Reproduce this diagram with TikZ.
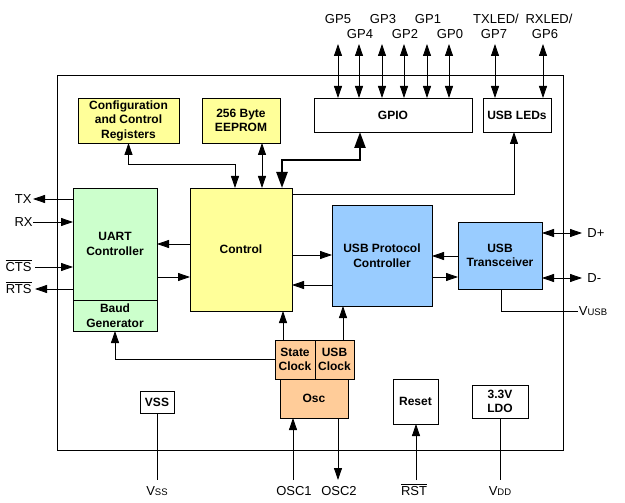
\documentclass[tikz,border=0pt]{standalone}
\usepackage{fontspec}
\setmainfont{Liberation Sans}
\usetikzlibrary{arrows.meta}
\newcommand\ovl[1]{\vbox{\hrule height 0.7pt\kern1.3pt\hbox{#1}}}
\newcommand\subc[1]{{\fontsize{9.5}{10}\selectfont #1}}
\definecolor{cyel}{HTML}{FFFF99}
\definecolor{cgrn}{HTML}{CCFFCC}
\definecolor{cblu}{HTML}{99CCFF}
\definecolor{cpch}{HTML}{FFCC99}
\begin{document}
\begin{tikzpicture}[x=1pt,y=-1pt,line width=0.8pt,
  box/.style={draw,font=\fontsize{12}{14.5}\selectfont\bfseries,align=center,inner sep=0pt,outer sep=0pt},
  pin/.style={font=\fontsize{13}{15}\selectfont,inner sep=1pt,align=center},
  arr/.style={-{Triangle[length=12pt,width=8pt]}},
  dbl/.style={{Triangle[length=12pt,width=8pt]}-{Triangle[length=12pt,width=8pt]}},
  thk/.style={line width=2.4pt,{Triangle[length=16pt,width=11pt]}-{Triangle[length=16pt,width=11pt]}}]
\useasboundingbox (0,0) rectangle (625,503);
% outer chip
\node[draw,minimum width=506pt,minimum height=375pt,inner sep=0pt] (chip) at (310,262.5) {};
% boxes
\node[box,fill=cyel,minimum width=101pt,minimum height=45pt] (cfg) at (128.5,120.5) {Configuration\\and Control\\Registers};
\node[box,fill=cyel,minimum width=78pt,minimum height=45pt] (eep) at (241,120.5) {256 Byte\\EEPROM};
\node[box,minimum width=158pt,minimum height=34pt] (gpio) at (393,115) {GPIO};
\node[box,minimum width=68pt,minimum height=34pt] (leds) at (517,115) {USB LEDs};
\node[box,fill=cgrn,minimum width=84pt,minimum height=112pt] (uart) at (115,244) {UART\\Controller};
\node[box,fill=cgrn,minimum width=84pt,minimum height=31pt] (baud) at (115,315.5) {Baud\\Generator};
\node[box,fill=cyel,minimum width=102pt,minimum height=123pt] (ctrl) at (241,249.5) {Control};
\node[box,fill=cblu,minimum width=100pt,minimum height=101pt] (upc) at (382,255.5) {USB Protocol\\Controller};
\node[box,fill=cblu,minimum width=84pt,minimum height=67pt] (trx) at (500,255.5) {USB\\Transceiver};
\node[box,fill=cpch,minimum width=40pt,minimum height=39pt] (sclk) at (295,359.5) {State\\Clock};
\node[box,fill=cpch,minimum width=39pt,minimum height=39pt] (uclk) at (334.5,359.5) {USB\\Clock};
\node[box,fill=cpch,minimum width=68pt,minimum height=39pt] (osc) at (314,398.5) {Osc};
\node[box,minimum width=34pt,minimum height=22pt] (vssb) at (157,402) {VSS};
\node[box,minimum width=45pt,minimum height=45pt] (rst) at (415.5,401.5) {Reset};
\node[box,minimum width=56pt,minimum height=33pt] (ldo) at (500,401.5) {3.3V\\LDO};
% top pins
\foreach \n/\x/\y in {p5/338/19,p4/359/34,p3/382/19,p2/404/34,p1/427/19,p0/449/34}{
  \coordinate (\n) at (\x,44);
  \draw[dbl] (\n) -- (gpio.north -| \n);
}
\node[pin] at (338,19) {GP5};
\node[pin] at (360,34) {GP4};
\node[pin] at (383,19) {GP3};
\node[pin] at (405,34) {GP2};
\node[pin] at (428,19) {GP1};
\node[pin] at (450,34) {GP0};
\coordinate (ptx) at (495,44);
\coordinate (prx) at (543,44);
\draw[dbl] (ptx) -- (leds.north -| ptx);
\draw[dbl] (prx) -- (leds.north -| prx);
\node[pin] at (496,19) {TXLED/};
\node[pin] at (494,34) {GP7};
\node[pin] at (549,19) {RXLED/};
\node[pin] at (545,34) {GP6};
% internal connections
\draw[dbl] (cfg.south) |- (235,164) -- (ctrl.north -| 235,0);
\draw[dbl] (eep.south -| 262,0) -- (ctrl.north -| 262,0);
\draw[thk] (ctrl.north -| 282,0) |- (360,160) -- (gpio.south -| 360,0);
\draw[arr] (ctrl.east |- 0,194) -| (leds.south -| 514,0);
\draw[arr] (ctrl.west |- 0,244) -- (uart.east |- 0,244);
\draw[arr] (uart.east |- 0,277) -- (ctrl.west |- 0,277);
\draw[arr] (ctrl.east |- 0,255) -- (upc.west |- 0,255);
\draw[arr] (upc.west |- 0,285) -- (ctrl.east |- 0,285);
\draw[arr] (trx.west |- 0,256) -- (upc.east |- 0,256);
\draw[arr] (upc.east |- 0,277) -- (trx.west |- 0,277);
\draw[arr] (sclk.north -| 283,0) -- (ctrl.south -| 283,0);
\draw[arr] (uclk.north -| 343,0) -- (upc.south -| 343,0);
\draw[arr] (sclk.west) -| (baud.south);
% left pins
\coordinate (ltx) at (33,199);
\coordinate (lrx) at (33,222);
\coordinate (lcts) at (35,267);
\coordinate (lrts) at (35,289);
\draw[arr] (uart.west |- ltx) -- (ltx);
\draw[arr] (lrx) -- (uart.west |- lrx);
\draw[arr] (lcts) -- (uart.west |- lcts);
\draw[arr] (uart.west |- lrts) -- (lrts);
\node[pin,anchor=east] at (33,199) {TX};
\node[pin,anchor=east] at (34,222) {RX};
\node[pin,anchor=east] at (33,266) {\ovl{CTS}};
\node[pin,anchor=east] at (33,288) {\ovl{RTS}};
% right pins
\coordinate (dp) at (582,233);
\coordinate (dm) at (582,278);
\coordinate (vu) at (578,311);
\draw[dbl] (trx.east |- dp) -- (dp);
\draw[dbl] (trx.east |- dm) -- (dm);
\draw (trx.south -| 501,0) |- (vu);
\node[pin,anchor=west] at (586,233) {D+};
\node[pin,anchor=west] at (586,278) {D-};
\node[pin,anchor=west,inner sep=0.5pt] at (vu) {V\subc{USB}};
% bottom pins
\coordinate (bvss) at (157,480);
\coordinate (bo1) at (293,480);
\coordinate (bo2) at (338,480);
\coordinate (brst) at (416,480);
\coordinate (bvdd) at (500,480);
\draw (vssb.south) -- (bvss);
\draw[arr] (bo1) -- (osc.south -| bo1);
\draw[arr] (osc.south -| bo2) -- (bo2);
\draw[arr] (brst) -- (rst.south -| brst);
\draw (ldo.south) -- (bvdd);
\node[pin] at (157,491) {V\subc{SS}};
\node[pin] at (294,491) {OSC1};
\node[pin] at (339,491) {OSC2};
\node[pin] at (414,490) {\ovl{RST}};
\node[pin] at (500,491) {V\subc{DD}};
\end{tikzpicture}
\end{document}
